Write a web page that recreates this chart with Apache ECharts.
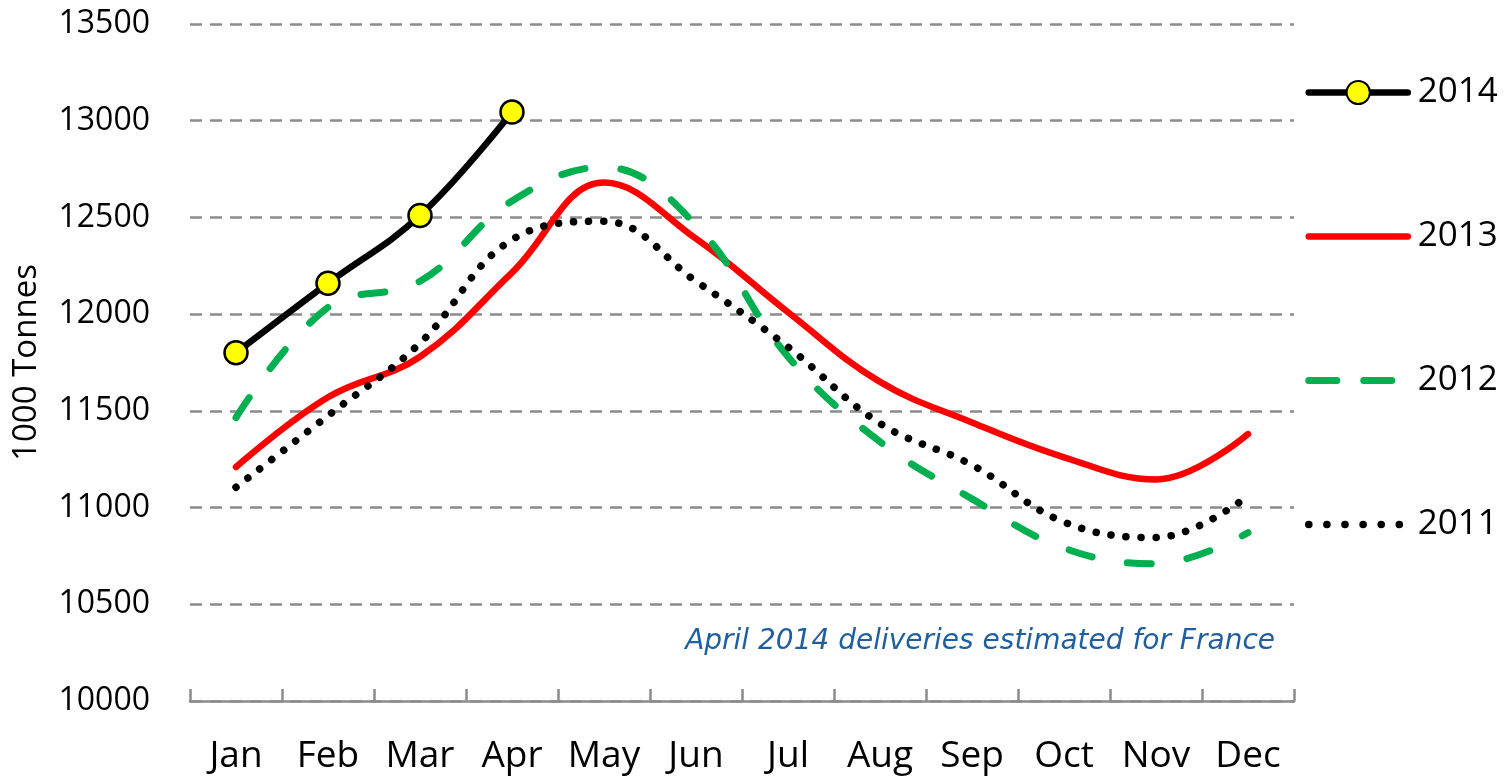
<!DOCTYPE html>
<html>
<head>
<meta charset="utf-8">
<script src="https://cdn.jsdelivr.net/npm/echarts@6/dist/echarts.min.js"></script>
<style>
    html, body {margin: 0; padding: 0; background: #fff;}
    #chart {width: 1508px; height: 780px;}
</style>
</head>
<body>
<div id="chart"></div>
<script>
const months = ['Jan', 'Feb', 'Mar', 'Apr', 'May', 'Jun', 'Jul', 'Aug', 'Sep', 'Oct', 'Nov', 'Dec'];
const yTicks = [10000, 10500, 11000, 11500, 12000, 12500, 13000, 13500];

const v2014 = [11800, 12160, 12510, 13045];
const v2013 = [11210, 11570, 11780, 12215, 12680, 12390, 12010, 11650, 11440, 11260, 11145, 11380];
const v2012 = [11465, 12035, 12170, 12585, 12760, 12460, 11780, 11340, 11045, 10790, 10710, 10870];
const v2011 = [11105, 11475, 11850, 12385, 12480, 12170, 11830, 11435, 11220, 10925, 10845, 11060];

const note = 'April 2014 deliveries estimated for France';

const gray = '#8c8c8c';
const hidden = {opacity: 0};
const dash2012 = [24, 36];
const dot2011 = [0.1, 15];

const chart = echarts.init(document.getElementById('chart'));

chart.setOption({
    animation: false,
    grid: {left: 190, right: 214, top: 24, bottom: 79, containLabel: false, outerBoundsMode: 'none'},
    legend: {
        orient: 'vertical',
        left: 1300,
        top: 70,
        itemWidth: 99,
        itemHeight: 29,
        itemGap: 109,
        textStyle: {fontFamily: 'Open Sans', fontSize: 35, color: '#000', padding: [0, 0, 0, 5]},
        data: [
            {name: '2014', lineStyle: {width: 6.5, cap: 'round'}},
            {name: '2013', itemStyle: hidden, lineStyle: {width: 6.5, cap: 'round'}},
            {name: '2012', itemStyle: hidden, lineStyle: {width: 7, type: [28, 27], cap: 'round'}},
            {name: '2011', itemStyle: hidden, lineStyle: {width: 7.5, type: [0.1, 18], cap: 'round'}},
        ],
    },
    xAxis: {
        type: 'category',
        data: months,
        boundaryGap: true,
        axisLine: {lineStyle: {color: gray, width: 2.5}},
        axisTick: {show: true, inside: true, length: 12, interval: 0, lineStyle: {color: gray, width: 2.5}},
        axisLabel: {interval: 0, fontFamily: 'Open Sans', fontSize: 37, color: '#000', margin: 37},
    },
    yAxis: {
        type: 'value',
        min: yTicks[0],
        max: yTicks[yTicks.length - 1],
        interval: 500,
        name: '1000 Tonnes',
        nameLocation: 'middle',
        nameGap: 147,
        nameTextStyle: {fontFamily: 'Open Sans', fontSize: 33, color: '#000'},
        axisLine: {show: false},
        axisTick: {show: false},
        axisLabel: {fontFamily: 'Open Sans', fontSize: 32, color: '#000', margin: 40, formatter: v => String(v)},
        splitLine: {lineStyle: {color: gray, width: 2.5, type: [12, 8]}},
    },
    graphic: [{
        type: 'text',
        right: 1508 - 1275,
        top: 628,
        style: {
            text: note,
            fontFamily: 'DejaVu Sans',
            fontStyle: 'italic',
            fontSize: 28,
            fill: '#1f5f9f',
        },
    }],
    series: [
        {
            name: '2013',
            type: 'line',
            data: v2013,
            smooth: 0.4,
            symbol: 'none',
            lineStyle: {color: '#ff0000', width: 6.5, cap: 'round'},
            itemStyle: {color: '#ff0000'},
        },
        {
            name: '2012',
            type: 'line',
            data: v2012,
            smooth: 0.4,
            symbol: 'none',
            lineStyle: {color: '#00b050', width: 7, type: dash2012, cap: 'round'},
            itemStyle: {color: '#00b050'},
        },
        {
            name: '2011',
            type: 'line',
            data: v2011,
            smooth: 0.4,
            symbol: 'none',
            lineStyle: {color: '#000', width: 7.5, type: dot2011, cap: 'round'},
            itemStyle: {color: '#000'},
        },
        {
            name: '2014',
            type: 'line',
            data: v2014,
            smooth: 0.4,
            symbol: 'circle',
            symbolSize: 23,
            lineStyle: {color: '#000', width: 6.5, cap: 'round'},
            itemStyle: {color: '#ffff00', borderColor: '#000', borderWidth: 2.5},
            z: 5,
        },
    ],
});
</script>
</body>
</html>
